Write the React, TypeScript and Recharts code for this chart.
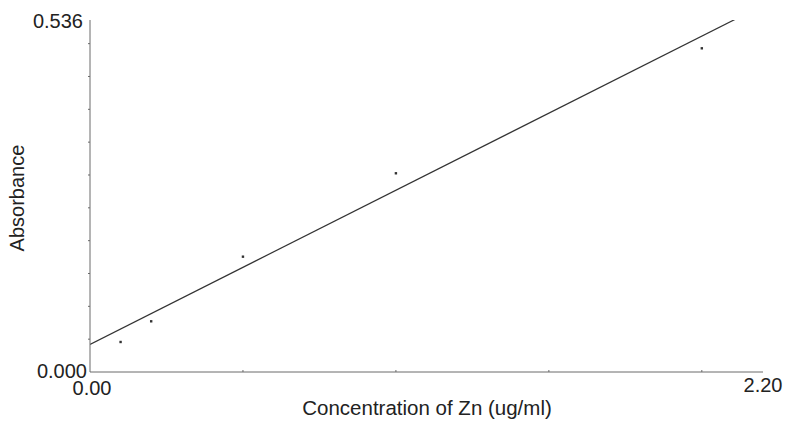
// Calibration curve for Zn: absorbance vs concentration, with a linear fit line.
import { ComposedChart, Scatter, Line, XAxis, YAxis } from 'recharts'

const concentrations = [0.1, 0.2, 0.5, 1.0, 2.0]
const absorbances = [0.0457, 0.0772, 0.1756, 0.3026, 0.4929]

const fitX = [0, 2.111]
const fitY = [0.0421, 0.5375]

const xTicks = [0, 0.5, 1.0, 1.5, 2.0, 2.2]
const yTicks = [0, 0.05, 0.1, 0.15, 0.2, 0.25, 0.3, 0.35, 0.4, 0.45, 0.5, 0.536]

const points = concentrations.map((x, i) => ({ x, y: absorbances[i] }))
const fit = fitX.map((x, i) => ({ x, y: fitY[i] }))

const FONT = 'Liberation Sans, Arial, sans-serif'
const AXIS = '#6a6a6a'

function XTick({ x, y, payload }: any) {
  const v = payload.value as number
  if (v === 0) {
    return <text x={x + 2} y={y + 23} textAnchor="middle" fontSize={20} fontFamily={FONT} fill="#222">0.00</text>
  }
  if (v === 2.2) {
    return <text x={x} y={y + 20} textAnchor="middle" fontSize={20} fontFamily={FONT} fill="#222">2.20</text>
  }
  return <line x1={x} x2={x} y1={y} y2={y - 2} stroke={AXIS} strokeWidth={1} />
}

function YTick({ x, y, payload }: any) {
  const v = payload.value as number
  if (v === 0) {
    return <text x={x - 3} y={y + 6} textAnchor="end" fontSize={20} fontFamily={FONT} fill="#222">0.000</text>
  }
  if (v === 0.536) {
    return <text x={x - 7} y={y + 8} textAnchor="end" fontSize={20} fontFamily={FONT} fill="#222">0.536</text>
  }
  return <line x1={x} x2={x - 2} y1={y} y2={y} stroke={AXIS} strokeWidth={1} />
}

const Dot = ({ cx, cy }: any) => <rect x={cx - 1.2} y={cy - 1.2} width={2.4} height={2.4} fill="#333" />

export default function App() {
  return (
    <div style={{ position: 'absolute', left: 0, top: 0, width: 786, height: 421, background: '#fff' }}>
      <ComposedChart width={786} height={421} margin={{ top: 20, right: 23, left: 0, bottom: 0 }}>
        <XAxis
          type="number"
          dataKey="x"
          domain={[0, 2.2]}
          ticks={xTicks}
          interval={0}
          tick={<XTick />}
          tickLine={false}
          tickSize={0}
          tickMargin={0}
          height={49}
          stroke={AXIS}
          allowDataOverflow
        />
        <YAxis
          type="number"
          dataKey="y"
          domain={[0, 0.536]}
          ticks={yTicks}
          interval={0}
          tick={<YTick />}
          tickLine={false}
          tickSize={0}
          tickMargin={0}
          width={90}
          stroke={AXIS}
          allowDataOverflow
        />
        <Line
          data={fit}
          dataKey="y"
          type="linear"
          stroke="#333"
          strokeWidth={1.2}
          dot={false}
          activeDot={false}
          isAnimationActive={false}
        />
        <Scatter data={points} dataKey="y" shape={<Dot />} isAnimationActive={false} />
      </ComposedChart>
      <div style={{ position: 'absolute', left: 0, top: 396, width: 854, textAlign: 'center', fontFamily: FONT, fontSize: 20.5, color: '#222' }}>
        Concentration of Zn (ug/ml)
      </div>
      <div style={{ position: 'absolute', left: 17, top: 198, transform: 'translate(-50%, -50%) rotate(-90deg)', fontFamily: FONT, fontSize: 20, color: '#222', whiteSpace: 'nowrap' }}>
        Absorbance
      </div>
    </div>
  )
}
